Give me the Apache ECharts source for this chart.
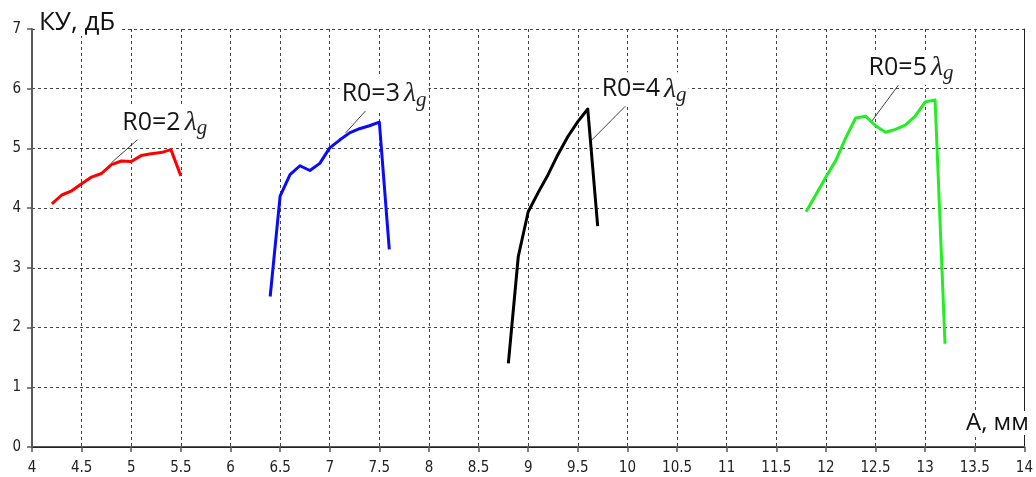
<!DOCTYPE html>
<html>
<head>
<meta charset="utf-8">
<style>
  html, body { margin: 0; padding: 0; background: #fff; }
  #chart { width: 1036px; height: 477px; }
</style>
<script src="https://cdn.jsdelivr.net/npm/echarts@6/dist/echarts.min.js"></script>
</head>
<body>
<div id="chart"></div>
<script>
// Gain (КУ, дБ) versus aperture size A (мм) for four ring radii R0 = 2..5 λg

const a2  = [4.2, 4.3, 4.4, 4.5, 4.6, 4.7, 4.8, 4.9, 5.0, 5.1, 5.2, 5.3, 5.4, 5.5];
const ku2 = [4.07, 4.22, 4.29, 4.41, 4.52, 4.58, 4.73, 4.79, 4.78, 4.88, 4.91, 4.93, 4.98, 4.54];

const a3  = [6.4, 6.5, 6.6, 6.7, 6.8, 6.9, 7.0, 7.1, 7.2, 7.3, 7.4, 7.5, 7.6];
const ku3 = [2.52, 4.2, 4.56, 4.71, 4.63, 4.75, 5.01, 5.14, 5.26, 5.33, 5.38, 5.44, 3.31];

const a4  = [8.8, 8.9, 9.0, 9.1, 9.2, 9.3, 9.4, 9.5, 9.6, 9.7];
const ku4 = [1.4, 3.19, 3.94, 4.26, 4.56, 4.9, 5.2, 5.45, 5.66, 3.7];

const a5  = [11.8, 11.9, 12.0, 12.1, 12.2, 12.3, 12.4, 12.5, 12.6, 12.7, 12.8, 12.9, 13.0, 13.1, 13.2];
const ku5 = [3.94, 4.23, 4.52, 4.8, 5.18, 5.51, 5.54, 5.38, 5.27, 5.32, 5.39, 5.54, 5.78, 5.81, 1.73];

const radii  = ['2', '3', '4', '5'];
const colors = ['#ff0000', '#0a0aff', '#000000', '#22ee22'];

// leader line: point on the curve -> point under the caption; caption anchor (left, middle)
const leaderFrom = [[4.80, 4.76], [7.16, 5.26], [9.64, 5.14], [12.45, 5.43]];
const leaderTo   = [[5.12, 5.23], [7.40, 5.70], [10.01, 5.76], [12.73, 6.06]];
const captionAt  = [[4.89, 5.43], [7.10, 5.91], [9.72, 5.99], [12.41, 6.35]];

const xTicks = { min: 4, max: 14, step: 0.5 };
const yTicks = { min: 0, max: 7, step: 1 };

const pairs = (xs, ys) => xs.map((x, i) => [x, ys[i]]);
const curves = [pairs(a2, ku2), pairs(a3, ku3), pairs(a4, ku4), pairs(a5, ku5)];

const tickFont = { fontFamily: "'DejaVu Sans Condensed', 'DejaVu Sans', sans-serif", fontSize: 15, color: '#222' };
const gridDash = { color: '#444', width: 1, type: [3, 3] };

const captionRich = {
  a: { fontFamily: "'Open Sans', sans-serif", fontSize: 25, color: '#151515', lineHeight: 34 },
  l: { fontFamily: "'Liberation Serif', serif", fontStyle: 'italic', fontSize: 28, color: '#222', lineHeight: 34, padding: [0, 0, 0, 4] },
  s: { fontFamily: "'Liberation Serif', serif", fontStyle: 'italic', fontSize: 21, color: '#222', lineHeight: 34, padding: [12, 0, 0, 0] }
};

const series = curves.map((data, i) => ({
  type: 'line',
  name: 'R0=' + radii[i] + 'λg',
  data: data,
  showSymbol: false,
  symbol: 'none',
  lineStyle: { color: colors[i], width: 3, join: 'round' },
  itemStyle: { color: colors[i] },
  z: 5,
  markLine: {
    silent: true,
    symbol: 'none',
    animation: false,
    lineStyle: { color: '#111', width: 0.8, type: 'solid' },
    label: { show: false },
    data: [[{ coord: leaderFrom[i] }, { coord: leaderTo[i] }]]
  },
  markPoint: {
    silent: true,
    animation: false,
    symbol: 'circle',
    symbolSize: 0,
    label: {
      show: true,
      position: 'right',
      distance: 0,
      backgroundColor: '#fff',
      padding: [0, 2, 0, 2],
      formatter: '{a|R0=' + radii[i] + '}{l|λ}{s|g}',
      rich: captionRich
    },
    data: [{ coord: captionAt[i] }]
  }
}));

const chart = echarts.init(document.getElementById('chart'), null, { renderer: 'canvas' });
chart.setOption({
  animation: false,
  backgroundColor: '#fff',
  grid: { left: 32, right: 9, top: 29, bottom: 30, containLabel: false },
  xAxis: [{
    type: 'value',
    min: xTicks.min, max: xTicks.max, interval: xTicks.step,
    axisLine: { show: true, onZero: false, lineStyle: { color: '#5a5a5a', width: 2 } },
    axisTick: { show: true, length: 5, lineStyle: { color: '#5a5a5a', width: 1.5 } },
    axisLabel: Object.assign({ margin: 14 }, tickFont),
    splitLine: { show: true, lineStyle: gridDash }
  }, {
    type: 'value', position: 'top',
    min: xTicks.min, max: xTicks.max,
    axisLine: { show: true, lineStyle: { color: '#222', width: 1 } },
    axisTick: { show: false }, axisLabel: { show: false }, splitLine: { show: false }
  }],
  yAxis: [{
    type: 'value',
    min: yTicks.min, max: yTicks.max, interval: yTicks.step,
    axisLine: { show: true, onZero: false, lineStyle: { color: '#5a5a5a', width: 2 } },
    axisTick: { show: true, length: 5, lineStyle: { color: '#5a5a5a', width: 1.5 } },
    axisLabel: Object.assign({ margin: 11 }, tickFont),
    splitLine: { show: true, lineStyle: gridDash }
  }, {
    type: 'value', position: 'right',
    min: yTicks.min, max: yTicks.max,
    axisLine: { show: true, lineStyle: { color: '#222', width: 1 } },
    axisTick: { show: false }, axisLabel: { show: false }, splitLine: { show: false }
  }],
  graphic: [{
    type: 'text', left: 36, top: 10, z: 100,
    style: {
      text: 'КУ, дБ', font: "26px 'Open Sans', sans-serif", fill: '#111',
      backgroundColor: '#fff', padding: [0, 4, 0, 3]
    }
  }, {
    type: 'text', left: 963, top: 411, z: 100,
    style: {
      text: 'А, мм', font: "24px 'Open Sans', sans-serif", fill: '#111',
      backgroundColor: '#fff', padding: [0, 2, 0, 3]
    }
  }],
  series: series
});
</script>
</body>
</html>
